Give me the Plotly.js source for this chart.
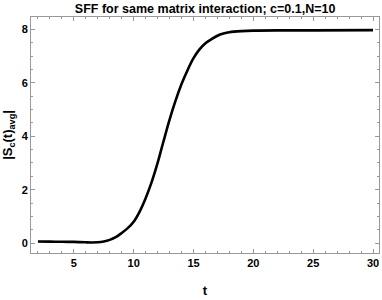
<!DOCTYPE html>
<html><head><meta charset="utf-8">
<script src="https://cdn.plot.ly/plotly-3.0.1.min.js"></script>
<style>html,body{margin:0;padding:0;background:#fff;}#chart{width:382px;height:300px;}</style>
</head><body><div id="chart"></div>
<script>
const tValues = [2, 3, 4, 5, 6, 6.5, 7, 7.5, 8, 8.5, 9, 9.5, 10, 10.5, 11, 11.5, 12, 12.5, 13, 13.5, 14, 14.5, 15, 15.5, 16, 16.5, 17, 17.5, 18, 19, 20, 22, 25, 30];
const sffValues = [0.06, 0.055, 0.05, 0.045, 0.03, 0.025, 0.03, 0.06, 0.12, 0.22, 0.38, 0.56, 0.8, 1.18, 1.68, 2.28, 3.0, 3.82, 4.62, 5.33, 5.95, 6.47, 6.92, 7.25, 7.48, 7.63, 7.76, 7.84, 7.89, 7.93, 7.95, 7.96, 7.96, 7.97];
const xTickVals = [5, 10, 15, 20, 25, 30];
const yTickVals = [0, 2, 4, 6, 8];
const titleText = "SFF for same matrix interaction; c=0.1,N=10";
const xTitle = "t";
const yTitle = "|S<sub>c</sub>(t)<sub>avg</sub>|";

const fnt = {family: "Liberation Sans, Arial, sans-serif", color: "#000", weight: "bold"};
const axisCommon = {
  showline: true, linecolor: "#999", linewidth: 1, mirror: "ticks",
  ticks: "inside", ticklen: 4, tickcolor: "#999", tickwidth: 1,
  showgrid: false, zeroline: false,
  tickfont: Object.assign({size: 11}, fnt),
};
Plotly.newPlot("chart", [{
  x: tValues, y: sffValues, type: "scatter", mode: "lines",
  line: {color: "#000", width: 2.6, shape: "spline", smoothing: 0.8}
}], {
  width: 382, height: 300,
  margin: {l: 31, r: 3, t: 17, b: 47},
  paper_bgcolor: "#fff", plot_bgcolor: "#fff",
  showlegend: false,
  title: {text: titleText, font: Object.assign({size: 12.5}, fnt), x: 0.537, xanchor: "center", y: 0.985, yanchor: "top"},
  xaxis: Object.assign({}, axisCommon, {
    range: [1.42, 30.5], tickvals: xTickVals, ticktext: xTickVals.map(String),
    minor: {dtick: 1, tick0: 0, ticks: "inside", ticklen: 2, tickcolor: "#999"},
    title: {text: xTitle, font: Object.assign({size: 13}, fnt), standoff: 17}
  }),
  yaxis: Object.assign({}, axisCommon, {
    range: [-0.37, 8.46], tickvals: yTickVals, ticktext: yTickVals.map(String),
    minor: {dtick: 0.5, tick0: 0, ticks: "inside", ticklen: 2, tickcolor: "#999"},
    title: {text: yTitle, font: Object.assign({size: 13}, fnt), standoff: 6}
  })
}, {displayModeBar: false, staticPlot: true});
</script></body></html>
